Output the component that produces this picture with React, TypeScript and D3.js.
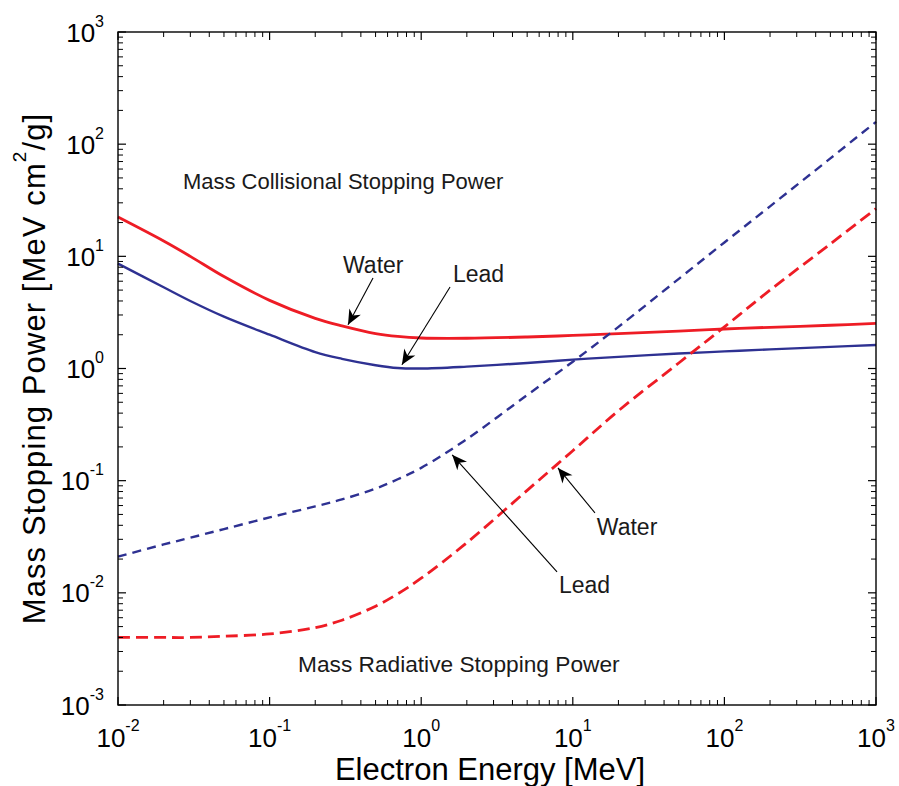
import React from 'react';
import * as d3 from 'd3';

// Electron kinetic energy grid [MeV]
const energy = [0.01, 0.02, 0.03, 0.05, 0.1, 0.2, 0.3, 0.5, 0.7, 1, 2, 5, 10, 20, 50, 100, 200, 500, 1000];
// Mass collisional stopping power [MeV cm^2/g]
const waterCollision = [22.4, 13.7, 10.0, 6.6, 4.05, 2.8, 2.4, 2.05, 1.93, 1.87, 1.86, 1.91, 1.97, 2.05, 2.15, 2.25, 2.33, 2.43, 2.52];
const leadCollision = [8.6, 5.3, 4.0, 2.9, 2.0, 1.4, 1.22, 1.07, 1.01, 1.0, 1.04, 1.12, 1.2, 1.27, 1.36, 1.42, 1.48, 1.56, 1.62];
// Mass radiative stopping power [MeV cm^2/g]
const waterRadiative = [0.004, 0.004, 0.004, 0.0041, 0.0043, 0.0049, 0.0057, 0.0076, 0.0098, 0.0135, 0.028, 0.082, 0.185, 0.42, 1.12, 2.35, 5.0, 12.9, 26.6];
const leadRadiative = [0.021, 0.027, 0.031, 0.037, 0.047, 0.059, 0.068, 0.085, 0.103, 0.13, 0.235, 0.58, 1.15, 2.35, 6.3, 13.3, 27.9, 74.7, 158];

const xExponents = [-2, -1, 0, 1, 2, 3];
const yExponents = [-3, -2, -1, 0, 1, 2, 3];

// Labels placed in data coordinates [energy, stopping power]
const labels: { text: string; at: [number, number]; size: number }[] = [
  { text: 'Mass Collisional Stopping Power', at: [0.0268, 39.9], size: 22 },
  { text: 'Water', at: [0.305, 7.11], size: 23 },
  { text: 'Lead', at: [1.62, 5.91], size: 23 },
  { text: 'Water', at: [14.4, 0.0329], size: 23 },
  { text: 'Lead', at: [8.11, 0.01], size: 23 },
  { text: 'Mass Radiative Stopping Power', at: [0.154, 0.00198], size: 22.7 },
];

// Arrows from label to curve: [tail, tip] in data coordinates
const arrows: [[number, number], [number, number]][] = [
  [[0.481, 6.42], [0.329, 2.45]],
  [[1.55, 5.33], [0.746, 1.08]],
  [[7.87, 0.0154], [1.6, 0.17]],
  [[14.0, 0.0516], [7.98, 0.13]],
];

const RED = '#ee1c25';
const BLUE = '#2e3192';
const FONT = '"Liberation Sans", Arial, Helvetica, sans-serif';

const W = 899;
const H = 786;
const left = 118, right = 876, top = 32, bottom = 705;

export default function App() {
  const x = d3.scaleLog().domain([1e-2, 1e3]).range([left, right]);
  const y = d3.scaleLog().domain([1e-3, 1e3]).range([bottom, top]);

  const line = d3
    .line<[number, number]>()
    .x((d) => x(d[0]))
    .y((d) => y(d[1]))
    .curve(d3.curveCatmullRom.alpha(0.5));

  const pts = (vals: number[]) => energy.map((e, i) => [e, vals[i]] as [number, number]);

  const series = [
    { vals: waterCollision, color: RED, width: 2.8, dash: undefined },
    { vals: leadCollision, color: BLUE, width: 2.4, dash: undefined },
    { vals: waterRadiative, color: RED, width: 2.8, dash: '12 6' },
    { vals: leadRadiative, color: BLUE, width: 2.4, dash: '9 6' },
  ];

  const minorX: number[] = [];
  for (let d = -2; d < 3; d++) for (let k = 2; k <= 9; k++) minorX.push(k * Math.pow(10, d));
  const minorY: number[] = [];
  for (let d = -3; d < 3; d++) for (let k = 2; k <= 9; k++) minorY.push(k * Math.pow(10, d));

  const majorLen = 8;
  const minorLen = 5;

  const arrowHead = (tail: [number, number], tip: [number, number]) => {
    const tx = x(tip[0]), ty = y(tip[1]);
    const sx = x(tail[0]), sy = y(tail[1]);
    const ang = Math.atan2(ty - sy, tx - sx);
    const L = 15, hw = 6.5, notch = 10.5;
    const ux = Math.cos(ang), uy = Math.sin(ang);
    const px = -uy, py = ux;
    const bx = tx - ux * L, by = ty - uy * L;
    const nx = tx - ux * notch, ny = ty - uy * notch;
    return `M${tx},${ty}L${bx + px * hw},${by + py * hw}L${nx},${ny}L${bx - px * hw},${by - py * hw}Z`;
  };

  return (
    <svg
      width={W}
      height={H}
      style={{ position: 'absolute', left: 0, top: 0, background: '#fff' }}
      fontFamily={FONT}
    >
      <rect x={0} y={0} width={W} height={H} fill="#fff" />

      {series.map((s, i) => (
        <path
          key={i}
          d={line(pts(s.vals)) || ''}
          fill="none"
          stroke={s.color}
          strokeWidth={s.width}
          strokeDasharray={s.dash}
        />
      ))}

      {/* axes box */}
      <rect x={left} y={top} width={right - left} height={bottom - top} fill="none" stroke="#000" strokeWidth={1.4} />

      {/* x ticks, bottom and top, pointing inward */}
      {xExponents.map((e) => {
        const px = x(Math.pow(10, e));
        return (
          <g key={'xm' + e}>
            <line x1={px} x2={px} y1={bottom} y2={bottom - majorLen} stroke="#000" strokeWidth={1.2} />
            <line x1={px} x2={px} y1={top} y2={top + majorLen} stroke="#000" strokeWidth={1.2} />
          </g>
        );
      })}
      {minorX.map((v, i) => {
        const px = x(v);
        return (
          <g key={'xn' + i}>
            <line x1={px} x2={px} y1={bottom} y2={bottom - minorLen} stroke="#000" strokeWidth={1} />
            <line x1={px} x2={px} y1={top} y2={top + minorLen} stroke="#000" strokeWidth={1} />
          </g>
        );
      })}

      {/* y ticks, left and right */}
      {yExponents.map((e) => {
        const py = y(Math.pow(10, e));
        return (
          <g key={'ym' + e}>
            <line x1={left} x2={left + majorLen} y1={py} y2={py} stroke="#000" strokeWidth={1.2} />
            <line x1={right} x2={right - majorLen} y1={py} y2={py} stroke="#000" strokeWidth={1.2} />
          </g>
        );
      })}
      {minorY.map((v, i) => {
        const py = y(v);
        return (
          <g key={'yn' + i}>
            <line x1={left} x2={left + minorLen} y1={py} y2={py} stroke="#000" strokeWidth={1} />
            <line x1={right} x2={right - minorLen} y1={py} y2={py} stroke="#000" strokeWidth={1} />
          </g>
        );
      })}

      {/* x tick labels */}
      {xExponents.map((e) => (
        <text key={'xl' + e} x={x(Math.pow(10, e))} y={747} textAnchor="middle" fontSize={26} fill="#000">
          10
          <tspan dy={-16} fontSize={16}>
            {String(e)}
          </tspan>
        </text>
      ))}

      {/* y tick labels */}
      {yExponents.map((e) => (
        <text key={'yl' + e} x={104} y={y(Math.pow(10, e)) + 9.5} textAnchor="end" fontSize={26} fill="#000">
          10
          <tspan dy={-15} fontSize={16}>
            {String(e)}
          </tspan>
        </text>
      ))}

      {/* axis titles */}
      <text x={490} y={780} textAnchor="middle" fontSize={31} fill="#000">
        Electron Energy [MeV]
      </text>
      <text
        transform={`translate(45,${(top + bottom) / 2}) rotate(-90)`}
        textAnchor="middle"
        fontSize={31}
        letterSpacing={1.1}
        fill="#000"
      >
        Mass Stopping Power [MeV cm
        <tspan dy={-19} fontSize={19}>
          2
        </tspan>
        <tspan dy={19}>/g]</tspan>
      </text>

      {/* annotations */}
      {labels.map((l, i) => (
        <text key={'lb' + i} x={x(l.at[0])} y={y(l.at[1])} fontSize={l.size} fill="#1a1a1a">
          {l.text}
        </text>
      ))}
      {arrows.map(([tail, tip], i) => (
        <g key={'ar' + i}>
          <line
            x1={x(tail[0])}
            y1={y(tail[1])}
            x2={x(tip[0])}
            y2={y(tip[1])}
            stroke="#000"
            strokeWidth={1.1}
          />
          <path d={arrowHead(tail, tip)} fill="#000" />
        </g>
      ))}
    </svg>
  );
}
